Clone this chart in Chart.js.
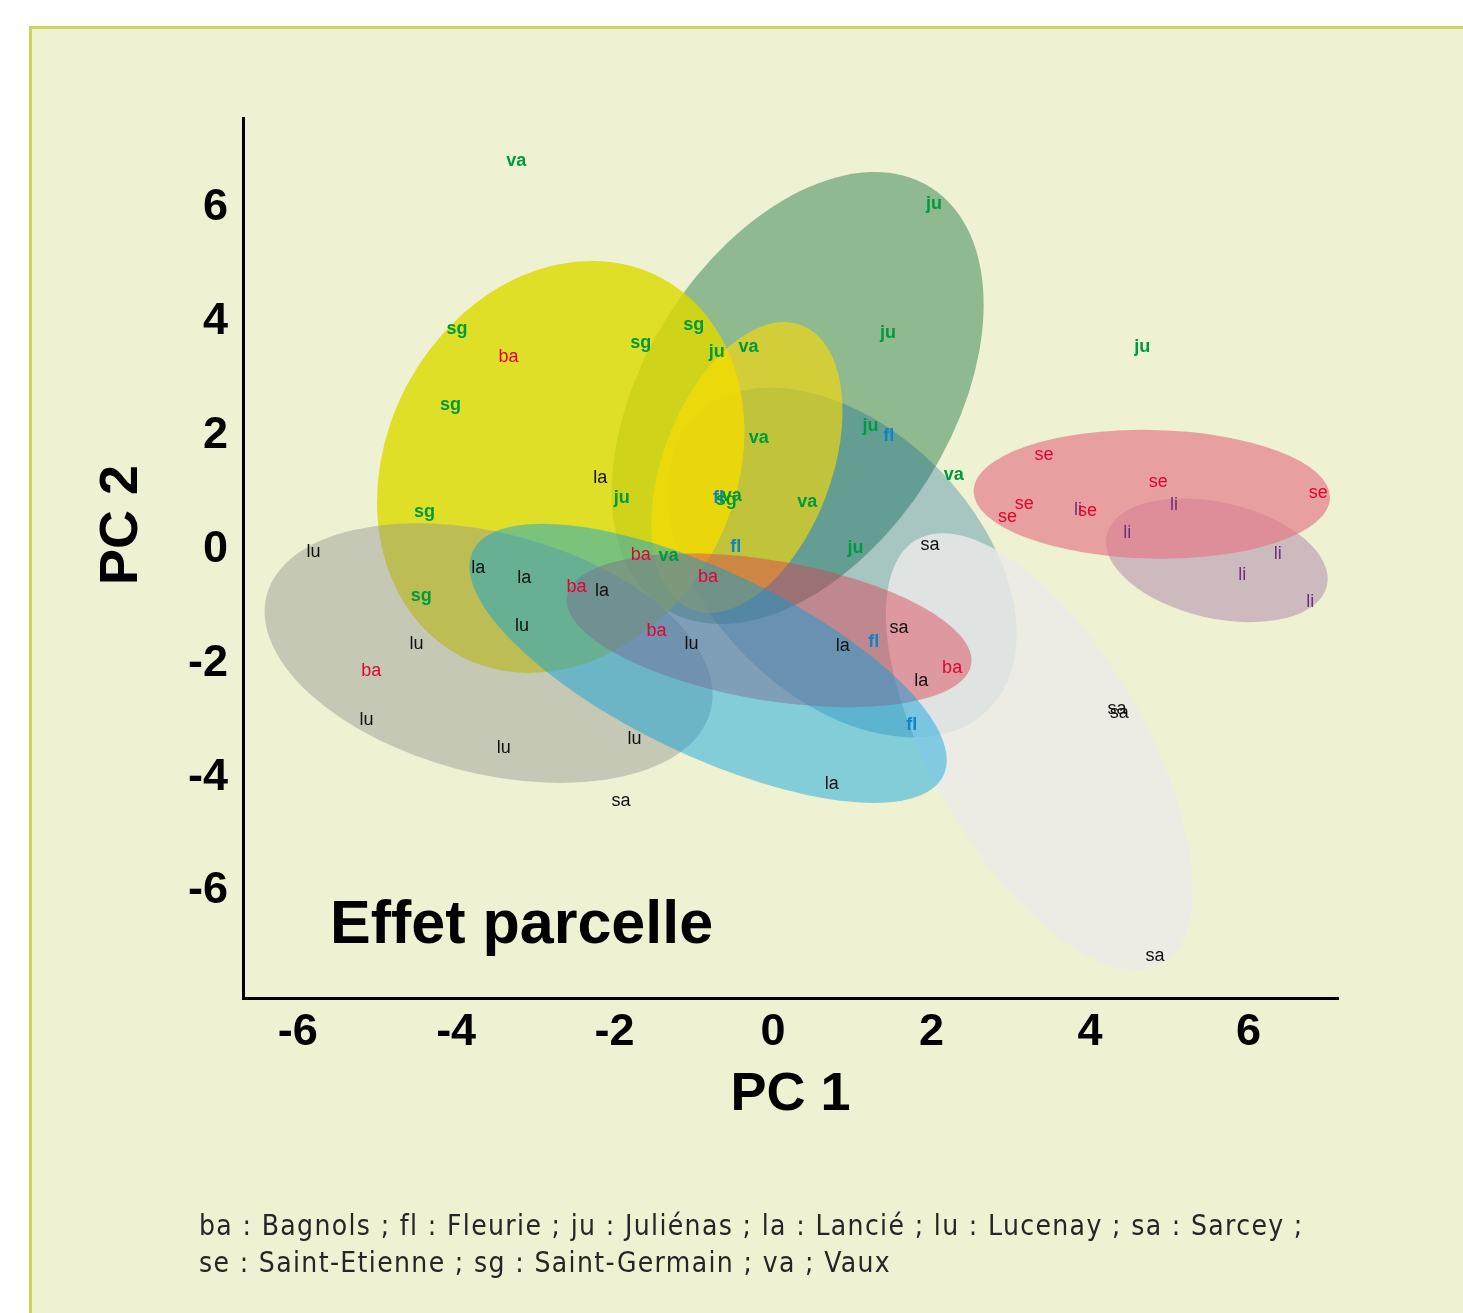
<!DOCTYPE html>
<html><head><meta charset="utf-8">
<script src="https://cdn.jsdelivr.net/npm/chart.js@4.4.1/dist/chart.umd.min.js"></script>
<style>
html,body{margin:0;padding:0;background:#fff;width:1463px;height:1313px;overflow:hidden;}
#panel{position:absolute;left:29px;top:26px;width:1450px;height:1300px;background:#eef2d3;border-left:3px solid #c9d65b;border-top:3px solid #c9d65b;}
#c{position:absolute;left:0;top:0;}
#note{position:absolute;left:199px;top:1207px;font-family:"DejaVu Sans Condensed","Liberation Sans Narrow",sans-serif;font-size:28px;line-height:37px;color:#262626;white-space:nowrap;}
</style></head>
<body>
<div id="panel"></div>
<canvas id="c" width="1463" height="1313"></canvas>
<div id="note"><span id="l1">ba : Bagnols ; fl : Fleurie ; ju : Juliénas ; la : Lancié ; lu : Lucenay ; sa : Sarcey ;</span><br><span id="l2">se : Saint-Etienne ; sg : Saint-Germain ; va ; Vaux</span></div>
<script>
// ---- data (PC1, PC2 scores) ----
const baX = [-3.34, -1.67, -2.48, -0.82, -1.47, 2.26, -5.07];
const baY = [3.40, -0.08, -0.64, -0.47, -1.42, -2.07, -2.12];
const flX = [-0.69, -0.47, 1.46, 1.27, 1.75];
const flY = [0.92, 0.06, 2.01, -1.61, -3.07];
const juX = [2.03, 1.45, -0.71, 4.66, 1.23, -1.91, 1.04];
const juY = [6.09, 3.82, 3.49, 3.58, 2.19, 0.92, 0.04];
const laX = [-2.18, -3.72, -3.14, -2.16, 0.88, 1.87, 0.74];
const laY = [1.27, -0.31, -0.48, -0.71, -1.68, -2.29, -4.10];
const liX = [3.85, 5.06, 4.47, 6.37, 5.92, 6.78];
const liY = [0.71, 0.80, 0.31, -0.06, -0.43, -0.91];
const luX = [-5.80, -3.17, -1.03, -4.50, -5.13, -3.40, -1.75];
const luY = [-0.03, -1.33, -1.64, -1.64, -2.98, -3.47, -3.31];
const saX = [1.98, 1.59, 4.34, 4.37, -1.92, 4.82];
const saY = [0.10, -1.36, -2.79, -2.86, -4.40, -7.13];
const seX = [3.42, 4.86, 6.88, 3.17, 2.96, 3.97];
const seY = [1.68, 1.20, 1.01, 0.82, 0.59, 0.69];
const sgX = [-3.99, -1.67, -1.00, -4.07, -0.59, -4.40, -4.44];
const sgY = [3.89, 3.65, 3.96, 2.56, 0.89, 0.68, -0.80];
const vaX = [-3.24, -0.31, -0.18, -0.52, 0.43, 2.28, -1.32];
const vaY = [6.85, 3.58, 1.98, 0.96, 0.85, 1.33, -0.10];

// confidence ellipses: centre and two conjugate semi-axis vectors (data units), in drawing order
const ellGroup = ['ju', 'fl', 'sg', 'va', 'lu', 'sa', 'ba', 'la', 'li', 'se'];
const ellCX = [0.31, 0.87, -2.68, -0.33, -3.59, 3.36, -0.05, -0.82, 5.60, 4.78];
const ellCY = [2.66, -0.23, 1.45, 1.44, -1.82, -3.55, -1.42, -2.00, -0.19, 0.97];
const ellUX = [1.68, 1.85, 1.27, 0.69, 2.80, 1.55, 2.55, 2.97, 1.39, 2.25];
const ellUY = [3.70, -2.58, 3.32, 2.50, -1.02, -3.72, -0.60, -1.97, -0.45, -0.06];
const ellVX = [-1.64, 1.20, -1.94, -0.99, 0.39, 1.16, 0.15, 0.50, 0.17, 0.01];
const ellVY = [1.44, 1.67, 1.44, 0.53, 2.04, 0.94, 1.21, 1.46, 0.99, 1.13];

const xTicks = [-6, -4, -2, 0, 2, 4, 6];
const yTicks = [-6, -4, -2, 0, 2, 4, 6];

// ---- styles ----
const groupOrder = ['ba', 'fl', 'ju', 'la', 'li', 'lu', 'sa', 'se', 'sg', 'va'];
const series = {ba:[baX,baY], fl:[flX,flY], ju:[juX,juY], la:[laX,laY], li:[liX,liY],
                lu:[luX,luY], sa:[saX,saY], se:[seX,seY], sg:[sgX,sgY], va:[vaX,vaY]};
const textStyle = {
  ba:{c:'#e3032d', b:false}, se:{c:'#e3032d', b:false},
  fl:{c:'#0a86c8', b:true},
  ju:{c:'#009a3d', b:true}, sg:{c:'#009a3d', b:true}, va:{c:'#009a3d', b:true},
  la:{c:'#111', b:false}, lu:{c:'#111', b:false}, sa:{c:'#111', b:false},
  li:{c:'#6f2f7a', b:false}
};
const fillStyle = {
  ju:'rgba(47,128,76,0.5)', fl:'rgba(3,97,153,0.3)', sg:'rgba(221,218,2,0.82)',
  va:'rgba(255,220,0,0.6)', lu:'rgba(146,149,143,0.45)', sa:'rgba(235,234,233,0.82)',
  ba:'rgba(220,60,80,0.45)', la:'rgba(0,160,222,0.45)', li:'rgba(171,130,172,0.5)',
  se:'rgba(229,124,137,0.7)'
};

const ellipsePlugin = {
  id:'ellipses',
  beforeDatasetsDraw(chart){
    const {ctx, scales:{x, y}} = chart;
    ellGroup.forEach((g, i) => {
      const cx = x.getPixelForValue(ellCX[i]), cy = y.getPixelForValue(ellCY[i]);
      const ux = x.getPixelForValue(ellCX[i] + ellUX[i]) - cx;
      const uy = y.getPixelForValue(ellCY[i] + ellUY[i]) - cy;
      const vx = x.getPixelForValue(ellCX[i] + ellVX[i]) - cx;
      const vy = y.getPixelForValue(ellCY[i] + ellVY[i]) - cy;
      ctx.save();
      ctx.transform(ux, uy, vx, vy, cx, cy);
      ctx.beginPath();
      ctx.arc(0, 0, 1, 0, Math.PI * 2);
      ctx.restore();
      ctx.save();
      ctx.fillStyle = fillStyle[g];
      ctx.fill();
      ctx.restore();
    });
  }
};

const labelPlugin = {
  id:'labels',
  afterDatasetsDraw(chart){
    const ctx = chart.ctx;
    chart.data.datasets.forEach((ds, i) => {
      const st = textStyle[ds.label];
      const meta = chart.getDatasetMeta(i);
      ctx.save();
      ctx.font = (st.b ? 'bold ' : '') + '18px "Liberation Sans", Arial, sans-serif';
      ctx.fillStyle = st.c;
      ctx.textAlign = 'center';
      ctx.textBaseline = 'middle';
      meta.data.forEach(pt => ctx.fillText(ds.label, pt.x, pt.y + 1));
      ctx.restore();
    });
  }
};

const textPlugin = {
  id:'texts',
  afterDraw(chart){
    const ctx = chart.ctx;
    ctx.save();
    ctx.fillStyle = '#000';
    ctx.font = 'bold 54px "Liberation Sans", Arial, sans-serif';
    ctx.textAlign = 'center';
    ctx.textBaseline = 'middle';
    ctx.translate(122, 525);
    ctx.rotate(-Math.PI / 2);
    ctx.fillText('PC 2', 0, 0);
    ctx.restore();
    ctx.save();
    ctx.fillStyle = '#000';
    ctx.font = 'bold 61px "Liberation Sans", Arial, sans-serif';
    ctx.textAlign = 'left';
    ctx.textBaseline = 'alphabetic';
    ctx.fillText('Effet parcelle', 330, 943);
    ctx.restore();
  }
};

const tickFont = {family:'"Liberation Sans", Arial, sans-serif', size:45, weight:'bold'};

new Chart(document.getElementById('c'), {
  type:'scatter',
  data:{
    datasets: groupOrder.map(g => ({
      label:g,
      data: series[g][0].map((v, i) => ({x:v, y:series[g][1][i]})),
      pointRadius:0, pointHoverRadius:0, showLine:false
    }))
  },
  options:{
    responsive:false, animation:false, devicePixelRatio:1,
    layout:{padding:{left:0, top:118, right:125, bottom:165}},
    plugins:{legend:{display:false}, tooltip:{enabled:false}},
    scales:{
      x:{
        type:'linear', min:-6.69, max:7.13,
        afterBuildTicks:s => { s.ticks = xTicks.map(v => ({value:v})); },
        afterFit:s => { s.height = 150; },
        grid:{display:false, drawTicks:false},
        border:{display:true, color:'#000', width:3},
        ticks:{font:tickFont, color:'#000', padding:8, maxRotation:0, autoSkip:false},
        title:{display:true, text:'PC 1', color:'#000',
               font:{family:'"Liberation Sans", Arial, sans-serif', size:54, weight:'bold'},
               padding:{top:0, bottom:20}}
      },
      y:{
        type:'linear', min:-7.88, max:7.58,
        afterBuildTicks:s => { s.ticks = yTicks.map(v => ({value:v})); },
        afterFit:s => { s.width = 243; },
        grid:{display:false, drawTicks:false},
        border:{display:true, color:'#000', width:3},
        ticks:{font:tickFont, color:'#000', padding:15, autoSkip:false}
      }
    }
  },
  plugins:[ellipsePlugin, labelPlugin, textPlugin]
});

// fit footnote line length
(function(){
  const l1 = document.getElementById('l1');
  const w = l1.getBoundingClientRect().width;
  const n = l1.textContent.length;
  const ls = (1103 - w) / (n - 1);
  document.getElementById('note').style.letterSpacing = ls.toFixed(2) + 'px';
})();
</script>
</body></html>
